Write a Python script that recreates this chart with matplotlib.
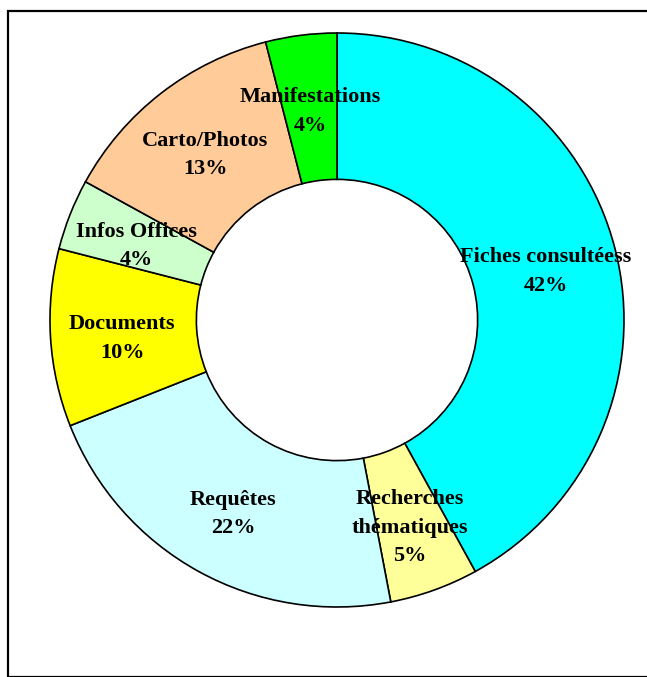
import matplotlib
matplotlib.use("Agg")
import matplotlib.pyplot as plt
import matplotlib.transforms as mtransforms
import numpy as np
from matplotlib.patches import Rectangle

labels = ["Fiches consultéess", "Recherches\nthématiques", "Requêtes", "Documents",
          "Infos Offices", "Carto/Photos", "Manifestations"]
values = [42, 5, 22, 10, 4, 13, 4]
colors = ["#00FFFF", "#FFFF99", "#CCFFFF", "#FFFF00", "#CCFFCC", "#FFCC99", "#00FF00"]

W, H = 647, 677
fig = plt.figure(figsize=(W / 100, H / 100), dpi=100)
fig.patches.append(Rectangle((8 / W, 0), 1.2, (H - 11) / H, transform=fig.transFigure,
                             fill=False, edgecolor="black", linewidth=1.6))

cx, cy, R = 337, 320, 287
ax = fig.add_axes([(cx - R) / W, (H - cy - R) / H, 2 * R / W, 2 * R / H])
ax.set_aspect("equal")
ax.axis("off")

wedges, _ = ax.pie(values, colors=colors, startangle=90, counterclock=False, radius=1,
                   wedgeprops=dict(width=0.51, edgecolor="black", linewidth=1.2))
ax.set_xlim(-1.0, 1.0)
ax.set_ylim(-1.0, 1.0)

shift = mtransforms.offset_copy(ax.transData, fig=fig, x=0, y=-5, units="dots")
total = sum(values)
for w, lab, v in zip(wedges, labels, values):
    ang = np.deg2rad((w.theta1 + w.theta2) / 2)
    r = 0.75
    ax.text(r * np.cos(ang), r * np.sin(ang), f"{lab}\n{round(100 * v / total)}%",
            ha="center", va="center", fontsize=16, fontweight="bold",
            family="Liberation Serif", linespacing=1.55, clip_on=False,
            transform=shift)

fig.savefig("out.png", dpi=100)
